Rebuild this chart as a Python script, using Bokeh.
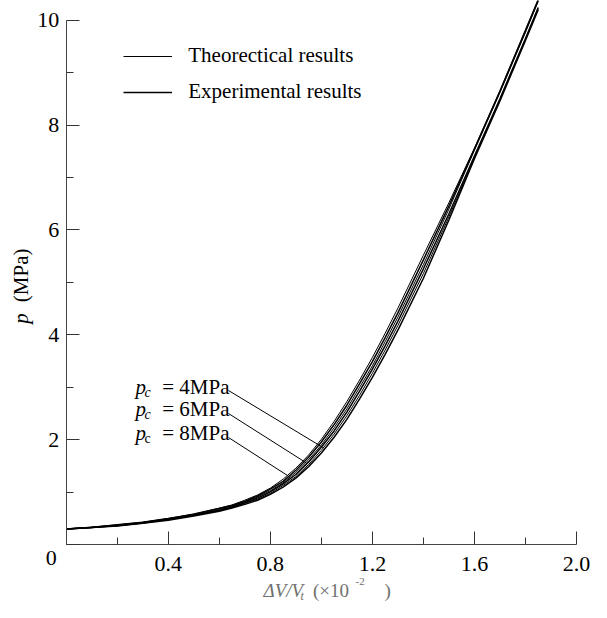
import numpy as np
from bokeh.plotting import figure
from bokeh.models import Range1d, FixedTicker, Label, Legend, LegendItem, PrintfTickFormatter
from bokeh.embed import file_html
from bokeh.resources import INLINE

# ---- data ----
strain = [0.0, 0.1, 0.2, 0.3, 0.4, 0.5, 0.6, 0.65, 0.7, 0.75, 0.8, 0.85, 0.9, 0.95, 1.0,
          1.05, 1.1, 1.15, 1.2, 1.25, 1.3, 1.4, 1.5, 1.6, 1.7, 1.8, 1.85]
p_theo_8 = [0.30, 0.34, 0.38, 0.43, 0.50, 0.59, 0.70, 0.76, 0.85, 0.95, 1.08, 1.25, 1.46, 1.71, 2.01,
            2.35, 2.73, 3.14, 3.57, 4.03, 4.51, 5.52, 6.52, 7.56, 8.66, 9.82, 10.40]
p_exp_8 = [0.30, 0.33, 0.38, 0.43, 0.50, 0.58, 0.69, 0.75, 0.83, 0.93, 1.06, 1.21, 1.42, 1.67, 1.96,
           2.29, 2.66, 3.07, 3.49, 3.95, 4.42, 5.43, 6.46, 7.54, 8.64, 9.79, 10.38]
p_theo_6 = [0.30, 0.33, 0.37, 0.42, 0.49, 0.57, 0.67, 0.74, 0.82, 0.91, 1.03, 1.18, 1.38, 1.62, 1.90,
            2.23, 2.59, 3.00, 3.41, 3.87, 4.34, 5.34, 6.40, 7.52, 8.62, 9.77, 10.36]
p_exp_6 = [0.30, 0.33, 0.37, 0.42, 0.49, 0.57, 0.66, 0.72, 0.80, 0.89, 1.01, 1.16, 1.34, 1.58, 1.86,
           2.17, 2.53, 2.93, 3.35, 3.79, 4.26, 5.26, 6.31, 7.41, 8.50, 9.65, 10.24]
p_theo_4 = [0.30, 0.33, 0.36, 0.41, 0.48, 0.56, 0.65, 0.71, 0.79, 0.87, 0.98, 1.13, 1.30, 1.53, 1.80,
            2.11, 2.46, 2.85, 3.27, 3.71, 4.18, 5.17, 6.25, 7.38, 8.48, 9.63, 10.22]
p_exp_4 = [0.30, 0.33, 0.36, 0.41, 0.47, 0.55, 0.64, 0.70, 0.77, 0.85, 0.96, 1.10, 1.27, 1.49, 1.75,
           2.05, 2.39, 2.78, 3.19, 3.63, 4.09, 5.08, 6.19, 7.36, 8.46, 9.61, 10.20]

x_ticks = [0.0, 0.4, 0.8, 1.2, 1.6, 2.0]
x_minor = [0.2, 0.6, 1.0, 1.4, 1.8]
y_ticks = [0, 2, 4, 6, 8, 10]
y_minor = [1, 3, 5, 7, 9]

pc_values = ["4MPa", "6MPa", "8MPa"]
pc_sub_style = ["italic", "italic", "normal"]
legend_labels = ["Theorectical results", "Experimental results"]
leader_end_x = [1.008, 0.939, 0.867]   # where each leader meets its curve (data x)

FONT = "Liberation Serif"
W, H = 591, 602
X0PX, XSCALE = 65.7, 255.15    # canvas pixel of x=0, pixels per unit
Y0PX, YSCALE = 544.3, 52.47    # canvas pixel of p=0, pixels per MPa


def px2x(px):
    return (px - X0PX) / XSCALE


def px2y(py):
    return (Y0PX - py) / YSCALE


p = figure(width=W, height=H, output_backend="svg", toolbar_location=None,
           x_range=Range1d(px2x(0), px2x(W)), y_range=Range1d(px2y(H), px2y(0)),
           min_border=0, min_border_left=0, min_border_right=0,
           min_border_top=0, min_border_bottom=0)
p.xgrid.visible = False
p.ygrid.visible = False
p.outline_line_color = None
p.background_fill_color = "white"
p.border_fill_color = "white"

for ax, ticks, minor in ((p.xaxis[0], x_ticks, x_minor), (p.yaxis[0], y_ticks, y_minor)):
    ax.fixed_location = 0
    ax.ticker = FixedTicker(ticks=ticks, minor_ticks=minor)
    ax.major_tick_in = 13
    ax.major_tick_out = 0
    ax.minor_tick_in = 7
    ax.minor_tick_out = 0
    ax.axis_line_color = "#444444"
    ax.major_tick_line_color = "#333333"
    ax.minor_tick_line_color = "#333333"
    ax.major_label_text_font = FONT
    ax.major_label_text_font_size = "22px"
    ax.major_label_text_color = "black"
    ax.major_label_overrides = {0: ""}

p.xaxis[0].major_label_standoff = 12
p.yaxis[0].major_label_standoff = 7
p.xaxis[0].formatter = PrintfTickFormatter(format="%.1f")
p.xaxis.bounds = (0, 2.0)
p.yaxis.bounds = (0, 10)

curves = [(p_theo_8, 1.0), (p_exp_8, 1.5), (p_theo_6, 1.0),
          (p_exp_6, 1.5), (p_theo_4, 1.0), (p_exp_4, 1.5)]
renderers = []
for ys, w in curves:
    renderers.append(p.line(strain, ys, line_color="black", line_width=w))

legend = Legend(items=[LegendItem(label=legend_labels[0], renderers=[renderers[2]]),
                       LegendItem(label=legend_labels[1], renderers=[renderers[3]])],
                location=(123.3, H - 104), glyph_width=49, glyph_height=20,
                label_height=20, label_standoff=16, spacing=11, padding=0, margin=0,
                border_line_color=None, background_fill_alpha=0,
                label_text_font=FONT, label_text_font_size="21px",
                label_text_color="black")
p.add_layout(legend)

# leader lines from the labels to the curves
target_curves = [p_theo_4, p_theo_6, p_theo_8]
end_y = [float(np.interp(xe, strain, c)) for xe, c in zip(leader_end_x, target_curves)]
start_py = [390, 413, 437]
p.segment(x0=[px2x(228)] * 3, y0=[px2y(v) for v in start_py], x1=leader_end_x, y1=end_y,
          line_color="black", line_width=1)


def lab(text, px, py, size, style="normal", color="black", align="left", angle=0.0):
    p.add_layout(Label(x=px2x(px), y=px2y(py), text=text, text_font=FONT,
                       text_font_style=style, text_font_size=size, text_color=color,
                       text_baseline="middle", text_align=align, angle=angle))


# p_c labels (py = vertical centre of the text)
for mid, val, sty in zip([386, 408, 432], pc_values, pc_sub_style):
    lab("p", 135, mid, "21px", "italic")
    lab("c", 144, mid + 6, "14px", sty)
    lab("= " + val, 161.7, mid, "21px")

# corner zero
lab("0", 50.7, 557.5, "22px", align="center")

# y axis title (rotated)
lab("p", 20, 323.3, "21px", "italic", angle=np.pi / 2)
lab("(MPa)", 20, 301.7, "21px", angle=np.pi / 2)

# x axis title
GRAY = "#707070"
M = 590.0
lab("ΔV/V", 263, M, "19px", "italic", GRAY)
lab("t", 300, M + 5, "12px", "italic", GRAY)
lab("(×10", 312.5, M, "19px", "normal", GRAY)
lab("-2", 355, M - 9, "11px", "normal", GRAY)
lab(")", 384, M, "19px", "normal", GRAY)

open("out.html", "w").write(file_html(p, INLINE))
